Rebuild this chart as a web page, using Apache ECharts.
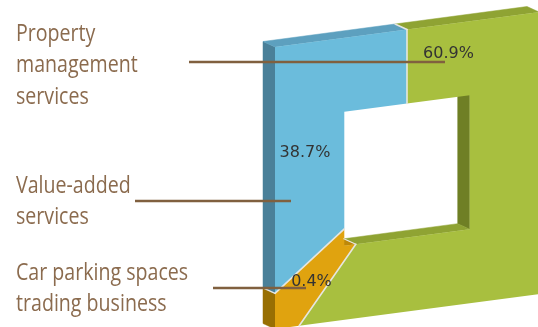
<!DOCTYPE html>
<html>
<head>
<meta charset="utf-8">
<style>
  html, body { margin: 0; padding: 0; background: #fff; }
  #chart { width: 538px; height: 327px; }
</style>
<script src="https://cdn.jsdelivr.net/npm/echarts@6/dist/echarts.min.js"></script>
</head>
<body>
<div id="chart"></div>
<script>
// Revenue mix, clockwise from twelve o'clock
var categories = ['Property management services', 'Car parking spaces trading business', 'Value-added services'];
var shares = [60.9, 0.4, 38.7];
var captions = [['Property', 'management', 'services'], ['Car parking spaces', 'trading business'], ['Value-added', 'services']];

var palette = [
  { face: '#a8bf3f', top: '#8fa333', side: '#6f7f25' },
  { face: '#e0a30f', top: '#bd8809', side: '#986f03' },
  { face: '#6bbcdc', top: '#5da0bf', side: '#4a8099' }
];

// Oblique projection of the square ring: u runs right, v runs down, both in -1..1
var centre = { x: 407, y: 170.5 };
var spanU = { x: 132, y: -17.5 };
var spanV = 141;
var depth = { x: -12, y: -5.5 };
var holeRatio = 0.475;
var minSliceDeg = 14; // very thin slices stay visible, the next slice gives up the difference

function project(p) {
  return [centre.x + spanU.x * p[0], centre.y + spanU.y * p[0] + spanV * p[1]];
}
function back(pt) {
  return [pt[0] + depth.x, pt[1] + depth.y];
}
function near(a, b) {
  return Math.abs(a - b) < 1e-9;
}
// Point on a square of half-size r along the bearing a (degrees clockwise from up)
function onSquare(a, r) {
  var t = a * Math.PI / 180, s = Math.sin(t), c = -Math.cos(t);
  var k = r / Math.max(Math.abs(s), Math.abs(c));
  return [s * k, c * k];
}
// Square outline between two bearings, passing through any corners on the way
function outline(a0, a1, r) {
  var pts = [onSquare(a0, r)];
  [45, 135, 225, 315].forEach(function (c) {
    if (c > a0 && c < a1) pts.push(onSquare(c, r));
  });
  pts.push(onSquare(a1, r));
  return pts;
}

function sliceBearings(values) {
  var total = values.reduce(function (a, b) { return a + b; }, 0);
  var spans = values.map(function (v) { return v / total * 360; });
  for (var i = 0; i < spans.length - 1; i++) {
    if (spans[i] < minSliceDeg) {
      spans[i + 1] -= minSliceDeg - spans[i];
      spans[i] = minSliceDeg;
    }
  }
  var from = 0;
  return spans.map(function (s) {
    var r = [from, from + s];
    from += s;
    return r;
  });
}
var bearings = sliceBearings(shares);

function wall(a, b, fill) {
  var pa = project(a), pb = project(b);
  return {
    type: 'polygon', z2: 1,
    shape: { points: [pa, pb, back(pb), back(pa)] },
    style: { fill: fill, stroke: fill, lineWidth: 0.5 }
  };
}
function seam(a, b, z2, width) {
  return {
    type: 'line', z2: z2,
    shape: { x1: a[0], y1: a[1], x2: b[0], y2: b[1] },
    style: { stroke: '#e6e6e0', lineWidth: width, lineCap: 'round' }
  };
}

function renderSlice(params, api) {
  var i = params.dataIndex;
  var range = bearings[i], tone = palette[i];
  var outer = outline(range[0], range[1], 1);
  var inner = outline(range[0], range[1], holeRatio);
  var children = [];

  // Only the walls turned towards the viewer: outer top and left, hole right and bottom
  for (var k = 0; k < outer.length - 1; k++) {
    var a = outer[k], b = outer[k + 1];
    if (near(a[1], -1) && near(b[1], -1)) children.push(wall(a, b, tone.top));
    if (near(a[0], -1) && near(b[0], -1)) children.push(wall(a, b, tone.side));
  }
  for (k = 0; k < inner.length - 1; k++) {
    a = inner[k]; b = inner[k + 1];
    if (near(a[0], holeRatio) && near(b[0], holeRatio)) children.push(wall(a, b, tone.side));
    if (near(a[1], holeRatio) && near(b[1], holeRatio)) children.push(wall(a, b, tone.top));
  }

  children.push({
    type: 'polygon', z2: 2,
    shape: { points: outer.concat(inner.slice().reverse()).map(project) },
    style: { fill: tone.face }
  });

  // Light seam where this slice starts, on the face and across any visible wall
  var o = project(outer[0]), n = project(inner[0]);
  children.push(seam(n, o, 3, 1.6));
  if (near(outer[0][1], -1) || near(outer[0][0], -1)) children.push(seam(o, back(o), 3, 1.4));
  if (near(inner[0][1], holeRatio) || near(inner[0][0], holeRatio)) children.push(seam(n, back(n), 3, 1.2));
  return { type: 'group', children: children };
}

// Captions, leader lines and value labels
var captionFont = { x: 16, scaleX: 0.8, size: 24.5, lineGap: 31.5 };
var captionTop = [34, 273, 186];
var leaders = [[189, 445, 62], [213, 306, 288], [135, 291, 201]];
var valueAnchors = [[448.5, 53.5], [311.5, 281.5], [305, 152.5]];

var overlay = [];
captions.forEach(function (lines, i) {
  lines.forEach(function (line, j) {
    overlay.push({
      type: 'text', x: captionFont.x, y: captionTop[i] + j * captionFont.lineGap,
      scaleX: captionFont.scaleX, z: 10,
      style: {
        text: line, fill: '#8b6b4e', fontFamily: 'Open Sans', fontWeight: 400,
        fontSize: captionFont.size, verticalAlign: 'middle', align: 'left'
      }
    });
  });
});
leaders.forEach(function (l) {
  overlay.push({
    type: 'line', z: 11,
    shape: { x1: l[0], y1: l[2], x2: l[1], y2: l[2] },
    style: { stroke: '#80603f', lineWidth: 2.4 }
  });
});
shares.forEach(function (v, i) {
  overlay.push({
    type: 'text', x: valueAnchors[i][0], y: valueAnchors[i][1], z: 12,
    style: {
      text: v.toFixed(1) + '%', fill: '#333', fontFamily: 'DejaVu Sans', fontSize: 16,
      align: 'center', verticalAlign: 'middle'
    }
  });
});

var chart = echarts.init(document.getElementById('chart'), null, { renderer: 'canvas' });
chart.setOption({
  animation: false,
  backgroundColor: '#fff',
  graphic: { elements: overlay },
  series: [{
    type: 'custom',
    coordinateSystem: 'none',
    silent: true,
    renderItem: renderSlice,
    data: shares.map(function (v, i) { return { name: categories[i], value: [v] }; })
  }]
});
</script>
</body>
</html>
